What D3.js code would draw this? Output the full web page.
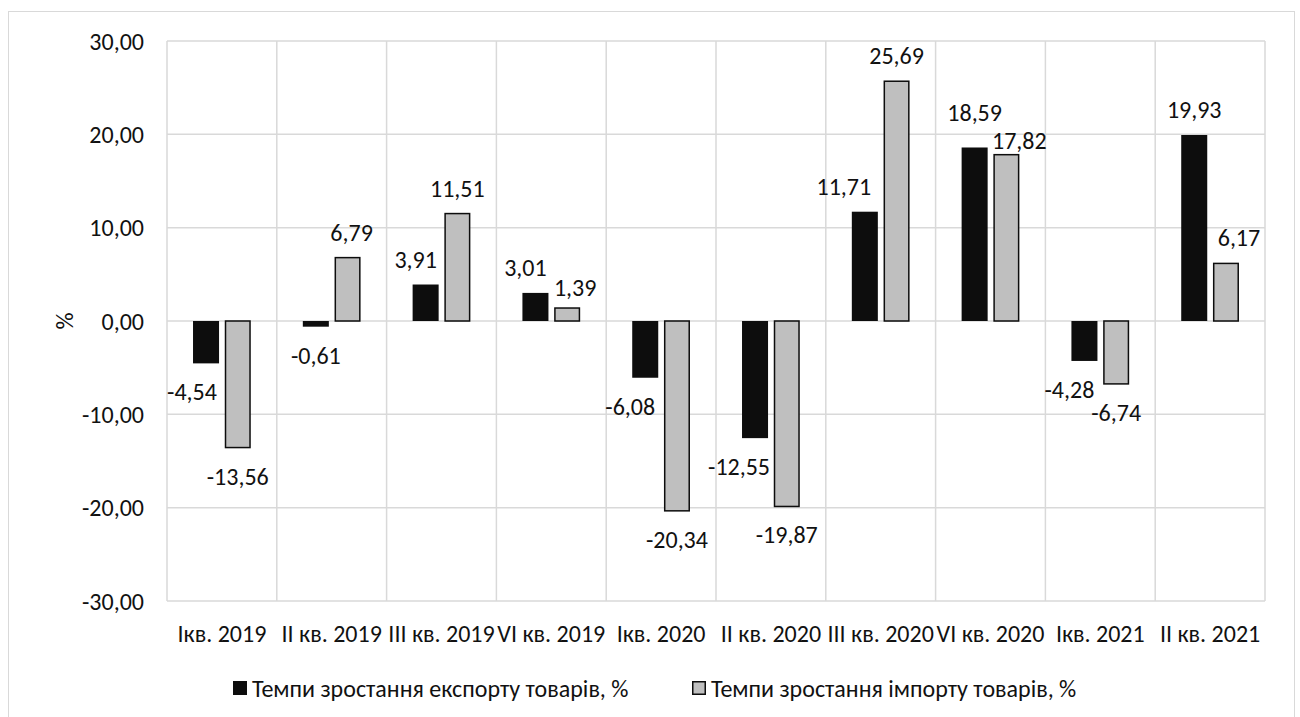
<!DOCTYPE html>
<html lang="uk">
<head>
  <meta charset="UTF-8">
  <title>Темпи зростання експорту та імпорту товарів</title>
  <style>
    body { margin: 0; background: #fff; }
    svg { display: block; font-family: Carlito, Calibri, "Open Sans", sans-serif; }
  </style>
  <script src="https://d3js.org/d3.v7.min.js"></script>
</head>
<body>
  <svg width="1300" height="717"></svg>

  <script>
    // Дані
    var quarters = ["Ікв. 2019", "II кв. 2019", "III кв. 2019", "VI кв. 2019", "Ікв. 2020",
                    "II кв. 2020", "III кв. 2020", "VI кв. 2020", "Ікв. 2021", "II кв. 2021"];
    var exportGrowth = [-4.54, -0.61, 3.91, 3.01, -6.08, -12.55, 11.71, 18.59, -4.28, 19.93];
    var importGrowth = [-13.56, 6.79, 11.51, 1.39, -20.34, -19.87, 25.69, 17.82, -6.74, 6.17];
    var seriesNames = ["Темпи зростання експорту товарів, %", "Темпи зростання імпорту товарів, %"];
    var yTicks = [-30, -20, -10, 0, 10, 20, 30];

    // ручні зсуви підписів (px), як у вихідній діаграмі
    var nudgeExport = [[-14, 0], [0, 0], [-10, 0], [-10, 0], [-15, 0], [-16, 0], [-21, 0], [0, -9], [-15, 0], [0, 0]];
    var nudgeImport = [[0, 0], [4, 0], [0, 0], [8, 5], [0, 0], [0, 0], [0, 0], [13, 11], [0, 0], [13, 0]];

    var svg = d3.select("svg");
    var grid = "#d9d9d9";
    var ink = "#0d0d0d";
    var fs = 24;
    var f2 = d3.formatLocale({decimal: ",", thousands: " ", grouping: [3], currency: ["", ""], minus: "-"}).format(".2f");
    var fmt = d => f2(d);

    // рамка діаграми
    svg.append("rect")
      .attr("x", 8.5).attr("y", 11.5).attr("width", 1286).attr("height", 720)
      .attr("fill", "none").attr("stroke", grid).attr("stroke-width", 1);

    var x = d3.scaleBand().domain(quarters).range([167, 1265]).padding(0);
    var xs = d3.scaleBand().domain([0, 1]).range([0, x.bandwidth()])
               .paddingInner(0.18).paddingOuter(0.82);
    var y = d3.scaleLinear().domain([-30, 30]).range([601, 41]);

    // горизонтальна сітка
    svg.append("g").selectAll("line").data(yTicks).join("line")
      .attr("x1", 167).attr("x2", 1265)
      .attr("y1", d => y(d)).attr("y2", d => y(d))
      .attr("stroke", grid).attr("stroke-width", 1.5);

    // вертикальна сітка
    var bounds = quarters.map(q => x(q)).concat([x.range()[1]]);
    svg.append("g").selectAll("line").data(bounds).join("line")
      .attr("x1", d => d).attr("x2", d => d)
      .attr("y1", y(30)).attr("y2", y(-30))
      .attr("stroke", grid).attr("stroke-width", 1.5);

    // підписи осі Y
    svg.append("g").selectAll("text").data(yTicks).join("text")
      .attr("x", 144).attr("y", d => y(d))
      .attr("text-anchor", "end").attr("dominant-baseline", "central")
      .attr("font-size", fs).attr("fill", "#111")
      .text(d => fmt(d));

    svg.append("text")
      .attr("transform", "translate(64," + y(0) + ") rotate(-90)")
      .attr("text-anchor", "middle").attr("dominant-baseline", "central")
      .attr("font-size", fs).attr("fill", "#111")
      .text("%");

    // підписи категорій
    svg.append("g").selectAll("text").data(quarters).join("text")
      .attr("x", d => x(d) + x.bandwidth() / 2).attr("y", 633)
      .attr("text-anchor", "middle").attr("dominant-baseline", "central")
      .attr("font-size", fs).attr("fill", "#111")
      .text(d => d);

    var series = [
      {vals: exportGrowth, fill: ink, stroke: "none", nudge: nudgeExport},
      {vals: importGrowth, fill: "#bfbfbf", stroke: ink, nudge: nudgeImport}
    ];

    series.forEach(function(s, si) {
      var g = svg.append("g");
      g.selectAll("rect").data(s.vals).join("rect")
        .attr("x", (d, i) => x(quarters[i]) + xs(si) + (si ? 0.75 : 0))
        .attr("width", xs.bandwidth() - (si ? 1.5 : 0))
        .attr("y", d => Math.min(y(d), y(0)))
        .attr("height", d => Math.abs(y(d) - y(0)))
        .attr("fill", s.fill).attr("stroke", s.stroke).attr("stroke-width", 1.5);

      g.selectAll("text").data(s.vals).join("text")
        .attr("x", (d, i) => x(quarters[i]) + xs(si) + xs.bandwidth() / 2 + s.nudge[i][0])
        .attr("y", (d, i) => y(d) + (d >= 0 ? -25.5 : 28.5) + s.nudge[i][1])
        .attr("text-anchor", "middle").attr("dominant-baseline", "central")
        .attr("font-size", fs).attr("fill", "#111")
        .text(d => fmt(d));
    });

    // легенда
    var legendX = [233, 692];
    series.forEach(function(s, si) {
      svg.append("rect")
        .attr("x", legendX[si] + 0.75).attr("y", 681.75).attr("width", 12.5).attr("height", 12.5)
        .attr("fill", s.fill).attr("stroke", ink).attr("stroke-width", 1.5);
      svg.append("text")
        .attr("x", legendX[si] + 19).attr("y", 688)
        .attr("dominant-baseline", "central")
        .attr("font-size", fs).attr("fill", "#111")
        .text(seriesNames[si]);
    });
  </script>
</body>
</html>
